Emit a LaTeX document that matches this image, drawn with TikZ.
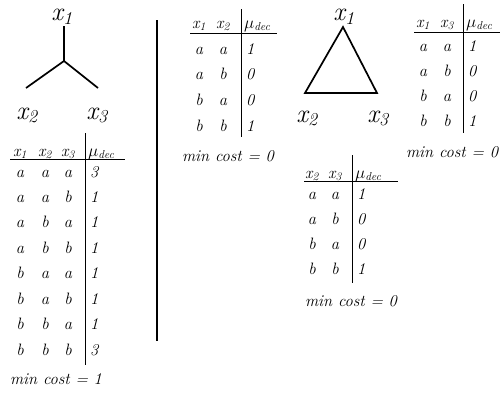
\documentclass[tikz,border=0pt]{standalone}
\newcommand{\tabfont}{\fontsize{16.5}{19}\selectfont\itshape}
\newcommand{\bigfont}{\fontsize{26}{28}\selectfont\itshape}
\newcommand{\xv}[1]{x\textsubscript{#1}}
\newcommand{\mud}{\ensuremath{\mu}\textsubscript{dec}}
\tikzset{
  cell/.style={font=\tabfont, inner sep=0pt, anchor=base},
  hcell/.style={font=\tabfont, inner sep=0pt, anchor=base west},
  big/.style={font=\bigfont, inner sep=0pt, anchor=base, text height=0.45em, text depth=0.25em},
  tline/.style={line width=0.9pt},
  gline/.style={line width=1.7pt},
  sep/.style={line width=2.2pt}
}
\begin{document}
\begin{tikzpicture}[x=1pt,y=-1pt]
\useasboundingbox (0,0) rectangle (500,394);
% ---------- star graph ----------
\node[big] (L1) at (62,20.5) {\xv{1}};
\node[big] (L2) at (27,119) {\xv{2}};
\node[big] (L3) at (97,119) {\xv{3}};
\coordinate (ctop) at (64,26);
\coordinate (cmid) at (64,61);
\coordinate (cl) at (26,88);
\coordinate (cr) at (98,88);
\draw[gline] (ctop) -- (cmid) -- (cl);
\draw[gline] (cmid) -- (cr);
% ---------- separator ----------
\coordinate (s1) at (157,20);
\coordinate (s2) at (157,341);
\draw[sep] (s1) -- (s2);
% ---------- triangle ----------
\node[big] (T1) at (344,20.5) {\xv{1}};
\node[big] (T2) at (307,122) {\xv{2}};
\node[big] (T3) at (378,122) {\xv{3}};
\coordinate (ta) at (343,27);
\coordinate (tb) at (305,93);
\coordinate (tc) at (377,93);
\draw[gline, line join=miter] (ta) -- (tb) -- (tc) -- cycle;
% ---------- left table (x1 x2 x3) ----------
\node[hcell] (A-h1) at (13,156) {\xv{1}};
\node[hcell] (A-h2) at (38,156) {\xv{2}};
\node[hcell] (A-h3) at (61,156) {\xv{3}};
\node[hcell] (A-h4) at (88,156) {\mud};
\coordinate (A-l1) at (10,159);
\coordinate (A-l2) at (125,159);
\coordinate (A-v1) at (85,133);
\coordinate (A-v2) at (85,365);
\draw[tline] (A-l1) -- (A-l2);
\draw[tline] (A-v1) -- (A-v2);
\foreach \a/\b/\c/\m [count=\i from 0] in {a/a/a/3,a/a/b/1,a/b/a/1,a/b/b/1,b/a/a/1,b/a/b/1,b/b/a/1,b/b/b/3}{
  \pgfmathsetmacro\yy{177+25.45*\i}
  \node[cell] (A-\i-1) at (20,\yy) {\a};
  \node[cell] (A-\i-2) at (45,\yy) {\b};
  \node[cell] (A-\i-3) at (68,\yy) {\c};
  \node[hcell] (A-\i-4) at (90,\yy) {\m};
}
\node[cell] (A-cost) at (56,384) {min cost = 1};
% ---------- middle table (x1 x2) ----------
\node[hcell] (B-h1) at (192,28) {\xv{1}};
\node[hcell] (B-h2) at (216,28) {\xv{2}};
\node[hcell] (B-h3) at (244,28) {\mud};
\coordinate (B-l1) at (190,33);
\coordinate (B-l2) at (277,33);
\coordinate (B-v1) at (241,9);
\coordinate (B-v2) at (241,137);
\draw[tline] (B-l1) -- (B-l2);
\draw[tline] (B-v1) -- (B-v2);
\foreach \a/\b/\m [count=\i from 0] in {a/a/1,a/b/0,b/a/0,b/b/1}{
  \pgfmathsetmacro\yy{54+25.7*\i}
  \node[cell] (B-\i-1) at (199,\yy) {\a};
  \node[cell] (B-\i-2) at (223,\yy) {\b};
  \node[hcell] (B-\i-3) at (246,\yy) {\m};
}
\node[cell] (B-cost) at (228,161) {min cost = 0};
% ---------- right table (x1 x3) ----------
\node[hcell] (C-h1) at (416,27) {\xv{1}};
\node[hcell] (C-h2) at (440,27) {\xv{3}};
\node[hcell] (C-h3) at (466,27) {\mud};
\coordinate (C-l1) at (414,32);
\coordinate (C-l2) at (500,32);
\coordinate (C-v1) at (463,4);
\coordinate (C-v2) at (463,133);
\draw[tline] (C-l1) -- (C-l2);
\draw[tline] (C-v1) -- (C-v2);
\foreach \a/\b/\m [count=\i from 0] in {a/a/1,a/b/0,b/a/0,b/b/1}{
  \pgfmathsetmacro\yy{51+25*\i}
  \node[cell] (C-\i-1) at (423,\yy) {\a};
  \node[cell] (C-\i-2) at (447,\yy) {\b};
  \node[hcell] (C-\i-3) at (468,\yy) {\m};
}
\node[cell] (C-cost) at (452,157) {min cost = 0};
% ---------- bottom table (x2 x3) ----------
\node[hcell] (D-h1) at (305,178) {\xv{2}};
\node[hcell] (D-h2) at (328,178) {\xv{3}};
\node[hcell] (D-h3) at (355,178) {\mud};
\coordinate (D-l1) at (304,181);
\coordinate (D-l2) at (398,181);
\coordinate (D-v1) at (352,155);
\coordinate (D-v2) at (352,283);
\draw[tline] (D-l1) -- (D-l2);
\draw[tline] (D-v1) -- (D-v2);
\foreach \a/\b/\m [count=\i from 0] in {a/a/1,a/b/0,b/a/0,b/b/1}{
  \pgfmathsetmacro\yy{199+25.3*\i}
  \node[cell] (D-\i-1) at (312,\yy) {\a};
  \node[cell] (D-\i-2) at (335,\yy) {\b};
  \node[hcell] (D-\i-3) at (357,\yy) {\m};
}
\node[cell] (D-cost) at (351,306) {min cost = 0};
\end{tikzpicture}
\end{document}
